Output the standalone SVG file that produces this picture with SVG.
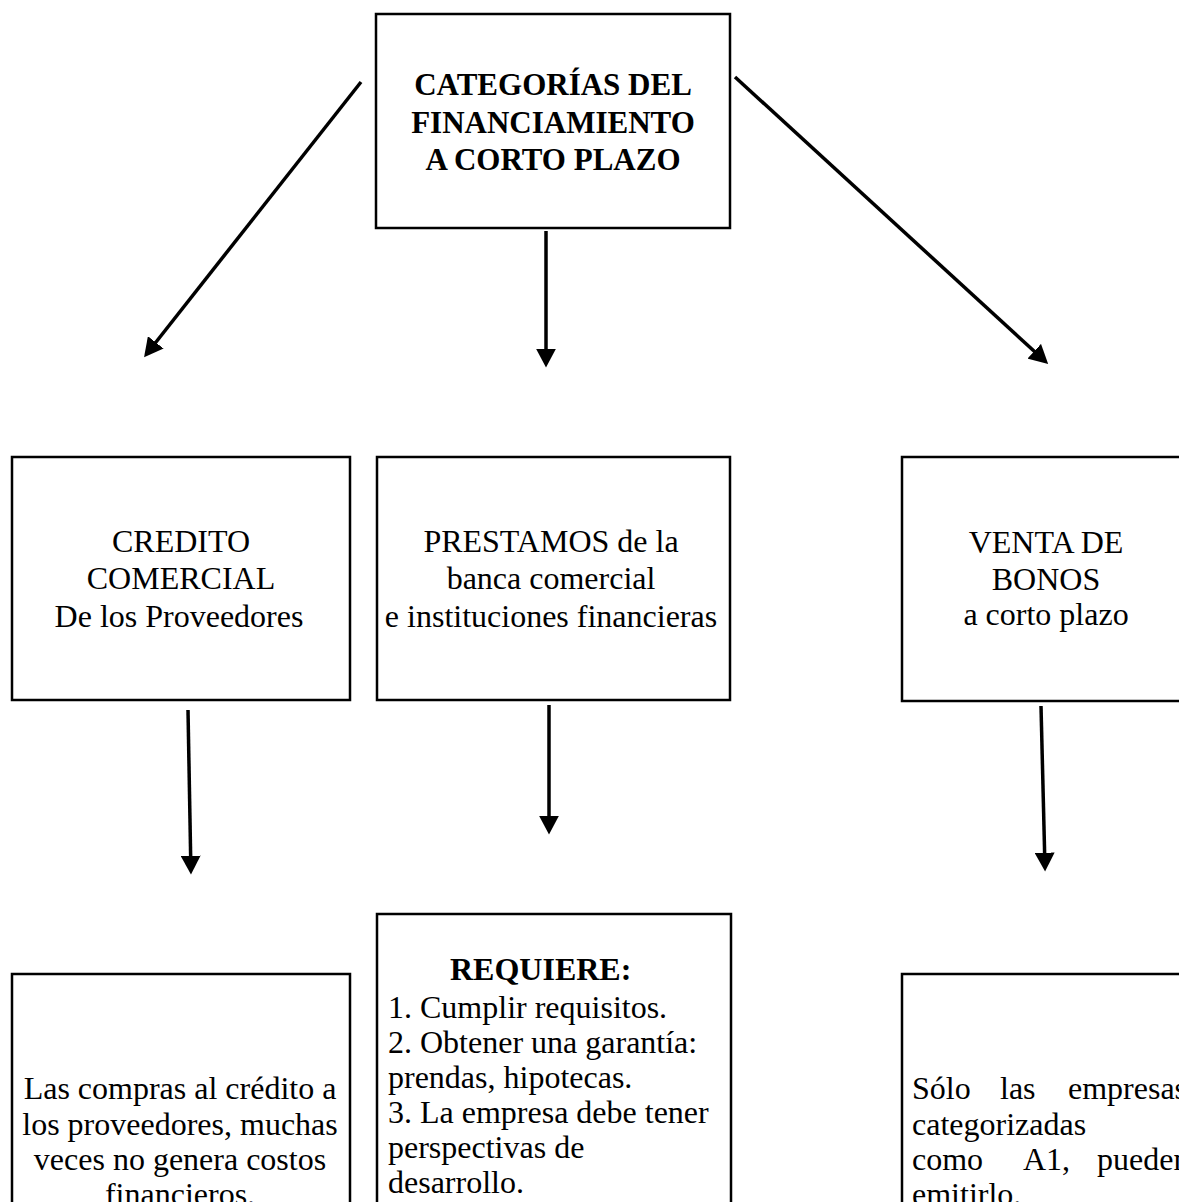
<svg xmlns="http://www.w3.org/2000/svg" width="1179" height="1202" viewBox="0 0 1179 1202">
<style>
.box{fill:#fff;stroke:#000;stroke-width:2.5}
.t{font-family:"Liberation Serif","Times New Roman",serif;font-size:32px;fill:#000}
.c{text-anchor:middle}
.b{font-weight:bold}
.h{font-family:"Liberation Serif","Times New Roman",serif;font-size:31px;font-weight:bold;fill:#000;text-anchor:middle}
.arr{stroke:#000;stroke-width:3.5;fill:none;marker-end:url(#ah)}
</style>
<defs>
<marker id="ah" markerUnits="userSpaceOnUse" markerWidth="20" markerHeight="20" refX="3" refY="9" orient="auto" viewBox="0 0 18 18">
<path d="M0,0 L17,9 L0,18 z" fill="#000"/>
</marker>
</defs>
<rect width="1179" height="1202" fill="#fff"/>
<g id="connectors">
<line class="arr" x1="361" y1="82" x2="153.7" y2="345"/>
<line class="arr" x1="546" y1="231" x2="546" y2="352"/>
<line class="arr" x1="735" y1="77" x2="1036.7" y2="353.5"/>
<line class="arr" x1="188" y1="710" x2="190.7" y2="859"/>
<line class="arr" x1="549" y1="705" x2="549" y2="819"/>
<line class="arr" x1="1041" y1="706" x2="1044.7" y2="856"/>
</g>
<g id="top">
<rect class="box" x="376" y="14" width="354" height="214"/>
<text class="h" x="553" y="95">CATEGORÍAS DEL</text>
<text class="h" x="553" y="133">FINANCIAMIENTO</text>
<text class="h" x="553" y="170">A CORTO PLAZO</text>
</g>
<g id="credito">
<rect class="box" x="12" y="457" width="338" height="243"/>
<text class="t c" x="181" y="552">CREDITO</text>
<text class="t c" x="181" y="589">COMERCIAL</text>
<text class="t c" x="179" y="627">De los Proveedores</text>
</g>
<g id="prestamos">
<rect class="box" x="377" y="457" width="353" height="243"/>
<text class="t c" x="551" y="552">PRESTAMOS de la</text>
<text class="t c" x="551" y="589">banca comercial</text>
<text class="t c" x="551" y="627">e instituciones financieras</text>
</g>
<g id="bonos">
<rect class="box" x="902" y="457" width="300" height="244"/>
<text class="t c" x="1046" y="553">VENTA DE</text>
<text class="t c" x="1046" y="590">BONOS</text>
<text class="t c" x="1046" y="625">a corto plazo</text>
</g>
<g id="compras">
<rect class="box" x="12" y="974" width="338" height="260"/>
<text class="t c" x="180" y="1099">Las compras al crédito a</text>
<text class="t c" x="180" y="1135">los proveedores, muchas</text>
<text class="t c" x="180" y="1170">veces no genera costos</text>
<text class="t c" x="180" y="1205">financieros.</text>
</g>
<g id="requiere">
<rect class="box" x="377" y="914" width="354" height="320"/>
<text class="t b" x="450" y="980">REQUIERE:</text>
<text class="t" x="388" y="1018">1. Cumplir requisitos.</text>
<text class="t" x="388" y="1053">2. Obtener una garantía:</text>
<text class="t" x="388" y="1088">prendas, hipotecas.</text>
<text class="t" x="388" y="1123">3. La empresa debe tener</text>
<text class="t" x="388" y="1158">perspectivas de</text>
<text class="t" x="388" y="1193">desarrollo.</text>
</g>
<g id="solo">
<rect class="box" x="902" y="974" width="300" height="260"/>
<text class="t" y="1099"><tspan x="912">Sólo</tspan><tspan x="1000">las</tspan><tspan x="1068">empresas</tspan></text>
<text class="t" x="912" y="1135">categorizadas</text>
<text class="t" y="1170"><tspan x="912">como</tspan><tspan x="1023">A1,</tspan><tspan x="1097">pueden</tspan></text>
<text class="t" x="912" y="1205">emitirlo.</text>
</g>
</svg>
